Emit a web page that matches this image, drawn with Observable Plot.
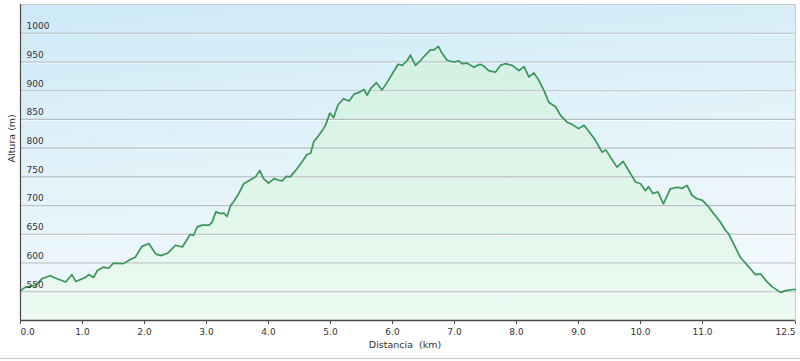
<!DOCTYPE html>
<html>
<head>
<meta charset="utf-8">
<script src="https://cdn.jsdelivr.net/npm/d3@7"></script>
<script src="https://cdn.jsdelivr.net/npm/@observablehq/plot@0.6"></script>
<style>
  html, body { margin: 0; padding: 0; background: #fff; }
  #chart { width: 800px; border-bottom: 1.5px solid #c8c8c8; }
  svg { display: block; }
</style>
</head>
<body>
<div id="chart"></div>
<script>
const distanceKm = [0.00,0.08,0.24,0.35,0.48,0.56,0.73,0.83,0.89,1.05,1.10,1.18,1.24,1.34,1.42,1.50,1.66,1.77,1.85,1.96,2.07,2.18,2.26,2.37,2.50,2.61,2.74,2.79,2.85,2.93,3.04,3.09,3.15,3.23,3.28,3.33,3.39,3.44,3.52,3.60,3.71,3.79,3.86,3.92,4.00,4.09,4.17,4.22,4.29,4.35,4.46,4.54,4.62,4.68,4.73,4.81,4.87,4.92,4.99,5.05,5.12,5.21,5.30,5.38,5.46,5.54,5.59,5.65,5.74,5.83,5.91,6.00,6.09,6.16,6.24,6.29,6.37,6.45,6.53,6.61,6.67,6.74,6.80,6.88,6.99,7.07,7.12,7.20,7.31,7.41,7.47,7.55,7.66,7.74,7.82,7.93,8.04,8.12,8.20,8.28,8.36,8.44,8.52,8.63,8.71,8.82,8.90,9.00,9.09,9.19,9.27,9.38,9.44,9.62,9.72,9.92,10.00,10.08,10.13,10.20,10.28,10.37,10.48,10.59,10.67,10.75,10.83,10.91,11.00,11.08,11.18,11.29,11.37,11.42,11.50,11.61,11.75,11.85,11.94,12.02,12.12,12.26,12.34,12.45,12.50];
const altitudeM = [552,558,561,573,578,574,567,580,568,575,580,575,587,593,591,600,599,606,610,629,634,616,613,617,631,628,650,648,663,666,666,671,689,686,687,681,700,707,721,738,745,750,761,747,739,747,744,743,751,750,764,776,789,791,811,822,831,840,861,853,875,886,882,894,897,902,892,904,914,901,914,930,946,944,953,962,944,952,962,971,971,977,965,953,950,952,947,948,941,946,943,935,932,944,947,944,935,942,924,931,918,901,880,872,857,845,841,834,840,826,814,793,797,767,777,741,738,726,733,721,724,703,729,732,730,735,718,712,709,700,686,671,657,651,634,610,593,580,581,570,559,549,552,554,554];
const yTicks = [550,600,650,700,750,800,850,900,950,1000];
const xTicks = [0,1,2,3,4,5,6,7,8,9,10,11,12.5];
const xTickLabels = ["0.0","1.0","2.0","3.0","4.0","5.0","6.0","7.0","8.0","9.0","10.0","11.0","12.5"];
const xTitle = "Distancia\u00a0 (km)";
const yTitle = "Altura (m)";

const data = distanceKm.map((k, i) => ({km: k, alt: altitudeM[i]}));
const xLab = xTicks.map((v, i) => ({v, t: xTickLabels[i]}));
const last = xLab.length - 1;

const font = "DejaVu Sans, Verdana, sans-serif";
const svg = Plot.plot({
  width: 800,
  height: 358,
  marginLeft: 20,
  marginRight: 5,
  marginTop: 4,
  marginBottom: 38,
  style: {fontFamily: font, background: "transparent", overflow: "visible"},
  x: {domain: [0, 12.5], ticks: xTicks, tickFormat: () => "", tickSize: 4, label: null},
  y: {domain: [500, 1050], axis: null},
  marks: [
    Plot.frame({fill: "url(#bgGrad)", stroke: "#c3ccd0"}),
    Plot.areaY(data, {x: "km", y1: 500, y2: "alt", fill: "url(#areaGrad)"}),
    Plot.ruleY(yTicks, {stroke: "#ffffff", strokeOpacity: 0.8, dy: 1}),
    Plot.ruleY(yTicks, {stroke: "#b4bec3", strokeWidth: 1.1}),
    Plot.line(data, {x: "km", y: "alt", stroke: "#3a955a", strokeWidth: 1.7, strokeLinejoin: "round"}),
    Plot.text(yTicks, {x: 0, y: d => d, text: d => String(d), dx: 6, dy: -7, textAnchor: "start", fontSize: 9, fill: "#333"}),
    Plot.ruleX([0], {stroke: "#4a4a4a", strokeWidth: 1.2}),
    Plot.ruleY([500], {stroke: "#4a4a4a", strokeWidth: 1.5}),
    Plot.text(xLab.slice(0, 1), {x: "v", y: 500, text: "t", dy: 12, textAnchor: "start", fontSize: 9, fill: "#333"}),
    Plot.text(xLab.slice(1, last), {x: "v", y: 500, text: "t", dy: 12, textAnchor: "middle", fontSize: 9, fill: "#333"}),
    Plot.text(xLab.slice(last), {x: "v", y: 500, text: "t", dy: 12, textAnchor: "end", fontSize: 9, fill: "#333"}),
    Plot.text([xTitle], {frameAnchor: "bottom", text: d => d, dy: 27, dx: -3, fontSize: 9.5, fill: "#333"}),
    Plot.text([yTitle], {frameAnchor: "left", text: d => d, rotate: -90, dx: -9, fontSize: 9.5, fill: "#333"})
  ]
});

d3.select(svg).insert("defs", ":first-child").html(`
  <linearGradient id="bgGrad" x1="0" y1="0" x2="0.25" y2="1">
    <stop offset="0" stop-color="#cde9f7"/>
    <stop offset="0.55" stop-color="#e3f3fa"/>
    <stop offset="1" stop-color="#f1f9fc"/>
  </linearGradient>
  <linearGradient id="areaGrad" x1="0" y1="0" x2="0" y2="1">
    <stop offset="0" stop-color="#d3f0e3"/>
    <stop offset="1" stop-color="#ecfaf2"/>
  </linearGradient>
`);
d3.select(svg).selectAll("[aria-label='x-axis tick'] path, g[aria-label='x-axis'] path").attr("stroke", "#4a4a4a");
document.getElementById("chart").appendChild(svg);
</script>
</body>
</html>
